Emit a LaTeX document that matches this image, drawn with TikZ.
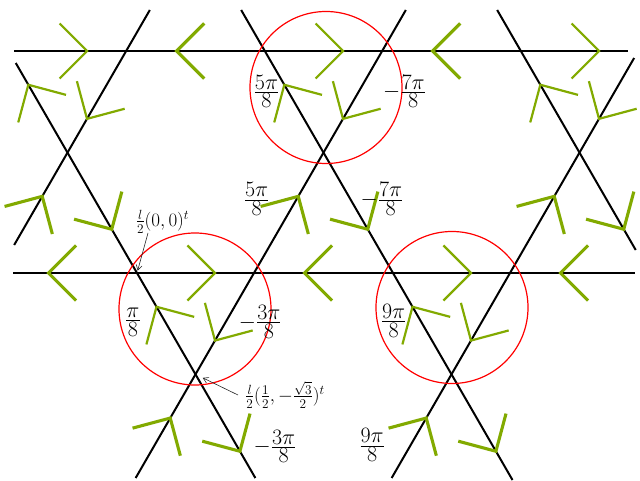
\RequirePackage{fix-cm}
\documentclass[tikz,border=0pt]{standalone}
\usepackage{amsmath}
\usetikzlibrary{arrows.meta,calc}
\definecolor{chevgreen}{RGB}{130,170,0}
\newcommand\myfr[2]{\frac{\textstyle #1}{\textstyle #2}}
\newcommand\chev[3]{\draw[#1] (#2) ++(#3+135:39) -- (#2) -- ++(#3-135:39);}
\begin{document}
\begin{tikzpicture}[x=1pt,y=-1pt,
  lat/.style={line width=2pt, black},
  tric/.style={chevgreen, line width=2.2pt, line join=miter},
  hexc/.style={chevgreen, line width=3.1pt, line join=miter},
  ring/.style={red, line width=1.2pt},
  biglab/.style={font=\fontsize{22}{26}\selectfont, inner sep=0pt},
  smalllab/.style={font=\fontsize{19}{23}\selectfont, inner sep=0pt},
  pointer/.style={black!85, line width=0.6pt, -{Straight Barb[length=5pt,width=6pt]}}]
\useasboundingbox (0,0) rectangle (640,481);
% lattice lines
\draw[lat] (14,51) -- (628,51);
\draw[lat] (13,273) -- (635,273);
\draw[lat] (15.76,63) -- (255.36,478);
\draw[lat] (241.16,10) -- (512.5,480);
\draw[lat] (497.16,10) -- (635.72,250);
\draw[lat] (149.84,10) -- (14.17,245);
\draw[lat] (405.84,10) -- (135.64,478);
\draw[lat] (634.13,58) -- (391.64,478);
% circles
\draw[ring] (326,87.5) circle[radius=76];
\draw[ring] (195,309) circle[radius=76];
\draw[ring] (452,307.5) circle[radius=76];
% triangle-edge chevrons
\chev{tric}{87.17,51}{0}
\chev{tric}{87,118.85}{120}
\chev{tric}{28.33,84.77}{-120}
\chev{tric}{343.17,51}{0}
\chev{tric}{343,118.85}{120}
\chev{tric}{284.33,84.77}{-120}
\chev{tric}{599.17,51}{0}
\chev{tric}{599,118.85}{120}
\chev{tric}{540.33,84.77}{-120}
\chev{tric}{215,273}{0}
\chev{tric}{215,340.55}{120}
\chev{tric}{156.5,306.77}{-120}
\chev{tric}{471,273}{0}
\chev{tric}{471,340.55}{120}
\chev{tric}{412.5,306.77}{-120}
% hexagon-edge chevrons
\chev{hexc}{176.67,51}{180}
\chev{hexc}{42.25,196.35}{-60}
\chev{hexc}{432.67,51}{180}
\chev{hexc}{298.25,196.35}{-60}
\chev{hexc}{554.25,196.35}{-60}
\chev{hexc}{48.5,273}{180}
\chev{hexc}{304.5,273}{180}
\chev{hexc}{170.25,418.05}{-60}
\chev{hexc}{111.75,229.27}{60}
\chev{hexc}{560.5,273}{180}
\chev{hexc}{426.25,418.05}{-60}
\chev{hexc}{367.75,229.27}{60}
\chev{hexc}{623.75,229.27}{60}
\chev{hexc}{239.92,451.27}{60}
\chev{hexc}{495.92,451.27}{60}
% labels
\node[biglab] (l1) at (266.5,91.5) {$\myfr{5\pi}{8}$};
\node[biglab] (l2) at (404.5,91.5) {$-\myfr{7\pi}{8}$};
\node[biglab] (l3) at (256.7,199) {$\myfr{5\pi}{8}$};
\node[biglab] (l4) at (382,199) {$-\myfr{7\pi}{8}$};
\node[biglab] (l5) at (133,322) {$\myfr{\pi}{8}$};
\node[biglab] (l6) at (260.3,321.8) {$-\myfr{3\pi}{8}$};
\node[biglab] (l7) at (393.7,320.8) {$\myfr{9\pi}{8}$};
\node[biglab] (l8) at (275,446.4) {$-\myfr{3\pi}{8}$};
\node[biglab] (l9) at (372.2,445) {$\myfr{9\pi}{8}$};
% pointer labels
\node[smalllab] (a1) at (162.5,221.5) {$\frac{l}{2}(0,0)^t$};
\node[smalllab] (a2) at (285,395) {$\frac{l}{2}(\frac{1}{2},-\frac{\sqrt{3}}{2})^t$};
\coordinate (O) at (137,273);
\coordinate (Q) at (195.5,374.32);
\coordinate (a1s) at (148,233);
\coordinate (a2s) at (238,395);
\draw[pointer, shorten >=2.5pt] (a1s) -- (O);
\draw[pointer, shorten >=8pt] (a2s) -- (Q);
\end{tikzpicture}
\end{document}
